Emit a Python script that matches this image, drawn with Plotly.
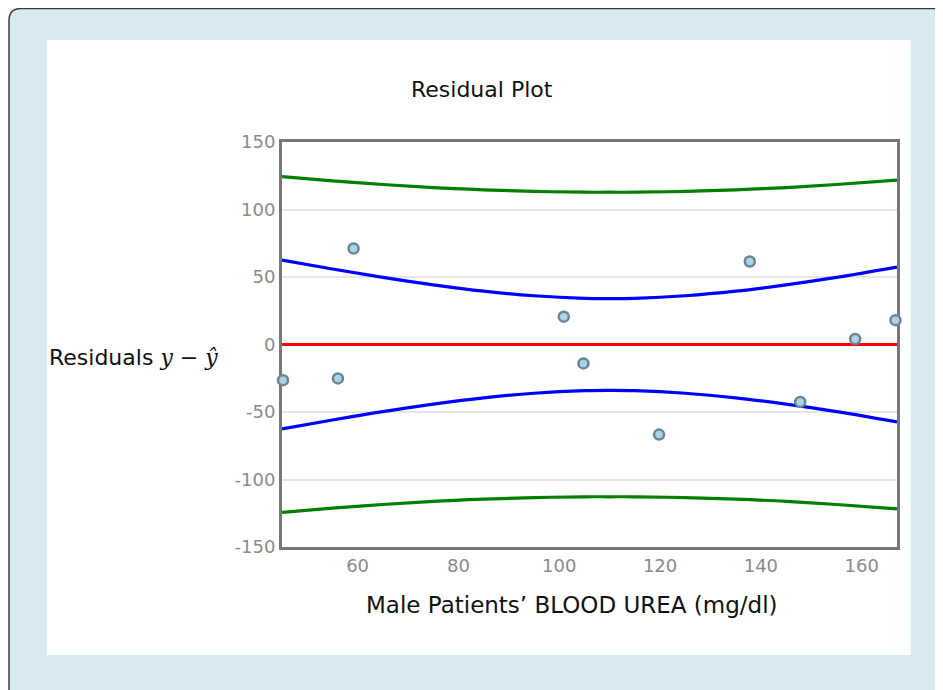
import plotly.graph_objects as go

# ---- data ----
blood_urea = [45.2, 56.1, 59.2, 100.9, 104.8, 119.8, 137.8, 147.8, 158.7, 166.7]
residuals = [-26.4, -25.1, 71.1, 20.6, -14.0, -66.7, 61.5, -42.5, 4.1, 18.0]

band_x = [45, 55, 65, 75, 85, 95, 105, 110, 115, 125, 135, 145, 155, 167]
conf_upper = [62.5, 55.9, 49.7, 44.2, 39.5, 36.1, 34.2, 34.0, 34.2, 36.1, 39.5, 44.2, 49.7, 57.3]
conf_lower = [-62.5, -55.9, -49.7, -44.2, -39.5, -36.1, -34.2, -34.0, -34.2, -36.1, -39.5, -44.2, -49.7, -57.3]
pred_upper = [124.4, 121.2, 118.5, 116.2, 114.6, 113.4, 112.8, 112.8, 112.8, 113.4, 114.6, 116.2, 118.5, 121.8]
pred_lower = [-124.4, -121.2, -118.5, -116.2, -114.6, -113.4, -112.8, -112.8, -112.8, -113.4, -114.6, -116.2, -118.5, -121.8]

zero_x = [45, 167]
zero_y = [0, 0]

x_ticks = [60, 80, 100, 120, 140, 160]
y_ticks = [-150, -100, -50, 0, 50, 100, 150]
y_ticktext = ["-150", "-100", "-50", "0", "50", "100", "150"]

title_text = "Residual Plot"
x_title = "Male Patients\u2019 BLOOD UREA (mg/dl)"

# ---- layout geometry (page pixels; the page body adds an 8px offset) ----
OFF = 8
W, H = 943 - OFF, 690 - OFF
PL, PR, PT, PB = 282, 897, 142, 547          # plot area edges in page pixels
ML, MT = PL - OFF, PT - OFF
MR = W - (PR - OFF)
MB = H - (PB - OFF)
PW = W - ML - MR
PH = H - MT - MB


def px(xp):
    return (xp - OFF - ML) / PW


def py(yp):
    return (H - MB - (yp - OFF)) / PH


FONT = "DejaVu Sans"
LIGHT_BLUE = "#d8ebf0"

fig = go.Figure()

line_w = 3.2
for yvals, col in [(pred_upper, "#008000"), (pred_lower, "#008000"),
                   (conf_upper, "#0000ff"), (conf_lower, "#0000ff")]:
    fig.add_trace(go.Scatter(x=band_x, y=yvals, mode="lines",
                             line=dict(color=col, width=line_w, shape="spline"),
                             hoverinfo="skip", showlegend=False))

fig.add_trace(go.Scatter(x=zero_x, y=zero_y, mode="lines",
                         line=dict(color="#ff0000", width=line_w),
                         hoverinfo="skip", showlegend=False))

fig.add_trace(go.Scatter(x=blood_urea, y=residuals, mode="markers",
                         marker=dict(size=10, color="#a9d6e5",
                                     line=dict(color="#6d8494", width=2.5)),
                         cliponaxis=False, showlegend=False))

# background shapes: rounded outer frame and white panel
r = 12
x0, y0, x1, y1 = 9, 8.5, 965, 715
path = (f"M {px(x0)},{py(y1)} L {px(x0)},{py(y0 + r)} "
        f"Q {px(x0)},{py(y0)} {px(x0 + r)},{py(y0)} "
        f"L {px(x1)},{py(y0)} L {px(x1)},{py(y1)} Z")
shapes = [
    dict(type="path", xref="paper", yref="paper", path=path,
         fillcolor=LIGHT_BLUE, line=dict(color="#3a3a3a", width=1.5), layer="below"),
    dict(type="rect", xref="paper", yref="paper",
         x0=px(47), x1=px(911), y0=py(655), y1=py(40),
         fillcolor="white", line=dict(width=0), layer="below"),
]

annotations = [
    dict(text=title_text, xref="paper", yref="paper", x=px(482), y=py(90),
         xanchor="center", yanchor="middle", showarrow=False,
         font=dict(family=FONT, size=22, color="#111111")),
    dict(text=x_title, xref="paper", yref="paper", x=px(572), y=py(605),
         xanchor="center", yanchor="middle", showarrow=False,
         font=dict(family=FONT, size=23, color="#111111")),
    dict(text="Residuals <span style=\"font-family:'DejaVu Serif'\"><i>y</i> \u2212 <i>\u0177</i></span>",
         xref="paper", yref="paper", x=px(47), y=py(357),
         xanchor="left", yanchor="middle", showarrow=False,
         font=dict(family=FONT, size=22, color="#111111")),
]

fig.update_layout(
    width=W, height=H,
    margin=dict(l=ML, r=MR, t=MT, b=MB, pad=0),
    paper_bgcolor="white", plot_bgcolor="white",
    shapes=shapes, annotations=annotations,
    showlegend=False,
    xaxis=dict(range=[45, 167], tickvals=x_ticks, showgrid=False, zeroline=False,
               showline=True, mirror=True, linecolor="#777777", linewidth=3,
               ticks="", tickfont=dict(family=FONT, size=18, color="#8a8a8a"),
               layer="below traces", fixedrange=True),
    yaxis=dict(range=[-150, 150], tickvals=y_ticks, ticktext=y_ticktext,
               showgrid=True, gridcolor="#e6e6e6", gridwidth=1.5, zeroline=False,
               showline=True, mirror=True, linecolor="#777777", linewidth=3,
               ticks="", tickfont=dict(family=FONT, size=18, color="#8a8a8a"),
               layer="below traces", fixedrange=True),
)

fig.write_html("out.html")
